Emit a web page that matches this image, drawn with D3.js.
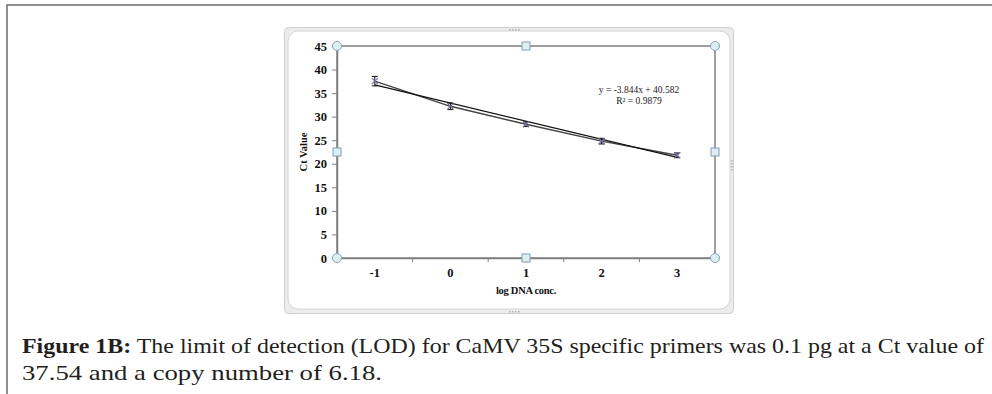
<!DOCTYPE html>
<html>
<head>
<meta charset="utf-8">
<script src="https://cdn.jsdelivr.net/npm/d3@7"></script>
<style>
  html, body { margin: 0; padding: 0; background: #fff; }
  svg { display: block; }
</style>
</head>
<body>
<div id="chart"></div>
<script>
// data
const categories = ['-1', '0', '1', '2', '3'];
const ctValues = [37.54, 32.2, 28.4, 24.8, 21.8];
const ctErrors = [1.0, 0.7, 0.5, 0.6, 0.5];
const yTicks = [0, 5, 10, 15, 20, 25, 30, 35, 40, 45];
const trendSlope = -3.844;
const trendIntercept = 40.582;
const trendLabel = ['y = -3.844x + 40.582', 'R\u00b2 = 0.9879'];

const width = 992, height = 394;
const plot = { left: 337, right: 715, top: 46, bottom: 258 };

const svg = d3.select('#chart')
  .append('svg')
    .attr('width', width)
    .attr('height', height);

// page border (top + left)
svg.append('path')
  .attr('d', `M7,394 L7,5 L992,5`)
  .attr('fill', 'none')
  .attr('stroke', '#6b6b6b')
  .attr('stroke-width', 1.5);

// chart object frame
svg.append('rect')
  .attr('x', 284.5).attr('y', 27.5)
  .attr('width', 449).attr('height', 286)
  .attr('rx', 4)
  .attr('fill', '#ececec')
  .attr('stroke', '#cfcfcf');
svg.append('rect')
  .attr('x', 288).attr('y', 31)
  .attr('width', 442).attr('height', 278)
  .attr('rx', 10)
  .attr('fill', '#fff')
  .attr('stroke', '#d4d4d4');

// little grip dots on the frame
const grips = [[509, 29, 'h'], [509, 311, 'h'], [731, 160, 'v']];
grips.forEach(([gx, gy, o]) => {
  for (let i = 0; i < 4; i++) {
    svg.append('rect')
      .attr('x', o === 'h' ? gx + i * 3 : gx)
      .attr('y', o === 'h' ? gy : gy + i * 3)
      .attr('width', 1.5).attr('height', 1.5)
      .attr('fill', '#b0b0b0');
  }
});

const x = d3.scaleBand()
  .domain(categories)
  .range([plot.left, plot.right]);

const y = d3.scaleLinear()
  .domain([0, 45])
  .range([plot.bottom, plot.top]);

const cx = (c) => x(c) + x.bandwidth() / 2;

// plot area border
svg.append('rect')
  .attr('x', plot.left).attr('y', plot.top)
  .attr('width', plot.right - plot.left)
  .attr('height', plot.bottom - plot.top)
  .attr('fill', 'none')
  .attr('stroke', '#7f7f7f')
  .attr('stroke-width', 1.5);

// y axis
const yAxis = svg.append('g')
  .attr('transform', `translate(${plot.left},0)`)
  .call(d3.axisLeft(y).tickValues(yTicks).tickSize(5).tickPadding(5));
yAxis.select('.domain').attr('stroke', '#7f7f7f').attr('stroke-width', 1.5);
yAxis.selectAll('.tick line').attr('stroke', '#7f7f7f');
yAxis.selectAll('.tick text')
  .attr('font-family', '"Liberation Serif", serif')
  .attr('font-weight', 'bold')
  .attr('font-size', 12.5)
  .attr('fill', '#111');

// x axis (labels centred in bands, ticks between bands)
const xAxis = svg.append('g')
  .attr('transform', `translate(0,${plot.bottom})`)
  .call(d3.axisBottom(x).tickSize(0).tickPadding(10));
xAxis.select('.domain').attr('stroke', '#7f7f7f').attr('stroke-width', 1.5);
xAxis.selectAll('.tick text')
  .attr('font-family', '"Liberation Serif", serif')
  .attr('font-weight', 'bold')
  .attr('font-size', 12.5)
  .attr('fill', '#111');
svg.append('g')
  .selectAll('line')
  .data(categories.slice(1))
  .join('line')
    .attr('x1', (d) => x(d)).attr('x2', (d) => x(d))
    .attr('y1', plot.bottom).attr('y2', plot.bottom + 4)
    .attr('stroke', '#7f7f7f');

// axis titles
svg.append('text')
  .attr('transform', `translate(307,${(plot.top + plot.bottom) / 2}) rotate(-90)`)
  .attr('text-anchor', 'middle')
  .attr('font-family', '"Liberation Serif", serif')
  .attr('font-weight', 'bold')
  .attr('font-size', 10.5)
  .attr('fill', '#111')
  .text('Ct Value');

svg.append('text')
  .attr('x', (plot.left + plot.right) / 2)
  .attr('y', 294)
  .attr('text-anchor', 'middle')
  .attr('font-family', '"Liberation Serif", serif')
  .attr('font-weight', 'bold')
  .attr('font-size', 10.5)
  .attr('letter-spacing', -0.3)
  .attr('fill', '#111')
  .text('log DNA conc.');

// data line
const points = categories.map((c, i) => ({ c, v: ctValues[i], e: ctErrors[i] }));
svg.append('path')
  .datum(points)
  .attr('fill', 'none')
  .attr('stroke', '#444')
  .attr('stroke-width', 1.4)
  .attr('d', d3.line().x((d) => cx(d.c)).y((d) => y(d.v)));

// linear trendline from the fitted equation (x = 1..n)
const trend = categories.map((c, i) => ({ c, v: trendSlope * (i + 1) + trendIntercept }));
svg.append('path')
  .datum([trend[0], trend[trend.length - 1]])
  .attr('fill', 'none')
  .attr('stroke', '#111')
  .attr('stroke-width', 1.2)
  .attr('d', d3.line().x((d) => cx(d.c)).y((d) => y(d.v)));

// error bars
const eb = svg.append('g').attr('stroke', '#111').attr('stroke-width', 1);
points.forEach((d) => {
  const px = cx(d.c);
  eb.append('line').attr('x1', px).attr('x2', px)
    .attr('y1', y(d.v + d.e)).attr('y2', y(d.v - d.e));
  eb.append('line').attr('x1', px - 3).attr('x2', px + 3)
    .attr('y1', y(d.v + d.e)).attr('y2', y(d.v + d.e));
  eb.append('line').attr('x1', px - 3).attr('x2', px + 3)
    .attr('y1', y(d.v - d.e)).attr('y2', y(d.v - d.e));
});

// x markers
svg.append('g')
  .selectAll('path')
  .data(points)
  .join('path')
    .attr('transform', (d) => `translate(${cx(d.c)},${y(d.v)})`)
    .attr('d', 'M-3,-3L3,3M-3,3L3,-3')
    .attr('stroke', '#7a6c9e')
    .attr('stroke-width', 1.2);

// trendline equation
svg.append('g')
  .selectAll('text')
  .data(trendLabel)
  .join('text')
    .attr('x', 639)
    .attr('y', (d, i) => 93 + i * 10.5)
    .attr('text-anchor', 'middle')
    .attr('font-family', '"Liberation Serif", serif')
    .attr('font-size', 9.5)
    .attr('fill', '#222')
    .text((d) => d);

// selection handles of the plot area
const midX = (plot.left + plot.right) / 2, midY = (plot.top + plot.bottom) / 2;
const corners = [[plot.left, plot.top], [plot.right, plot.top], [plot.left, plot.bottom], [plot.right, plot.bottom]];
const sides = [[midX, plot.top], [midX, plot.bottom], [plot.left, midY], [plot.right, midY]];
svg.append('g')
  .selectAll('circle')
  .data(corners)
  .join('circle')
    .attr('cx', (d) => d[0]).attr('cy', (d) => d[1])
    .attr('r', 4.5)
    .attr('fill', '#dceff4')
    .attr('stroke', '#8aa4b0');
svg.append('g')
  .selectAll('rect')
  .data(sides)
  .join('rect')
    .attr('x', (d) => d[0] - 4).attr('y', (d) => d[1] - 4)
    .attr('width', 8).attr('height', 8)
    .attr('fill', '#dceff4')
    .attr('stroke', '#7fa0b3');

// caption
const cap = svg.append('g')
  .attr('font-family', '"Liberation Serif", serif')
  .attr('font-size', 21)
  .attr('fill', '#231f20');
const line1 = cap.append('text')
  .attr('x', 22).attr('y', 353)
  .attr('textLength', 962)
  .attr('lengthAdjust', 'spacingAndGlyphs');
line1.append('tspan').attr('font-weight', 'bold').text('Figure 1B:');
line1.append('tspan').text(' The limit of detection (LOD) for CaMV 35S specific primers was 0.1 pg at a Ct value of');
cap.append('text')
  .attr('x', 22).attr('y', 380)
  .attr('textLength', 360)
  .attr('lengthAdjust', 'spacingAndGlyphs')
  .text('37.54 and a copy number of 6.18.');
</script>
</body>
</html>
